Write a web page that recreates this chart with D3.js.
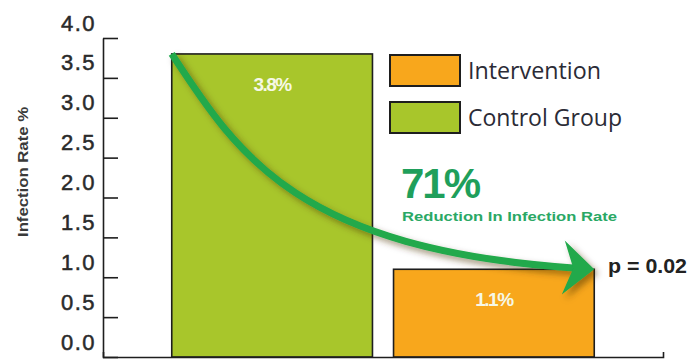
<!DOCTYPE html>
<html>
<head>
<meta charset="utf-8">
<script src="https://cdn.jsdelivr.net/npm/d3@7/dist/d3.min.js"></script>
<style>
  html, body { margin: 0; padding: 0; background: #ffffff; }
  svg { display: block; }
</style>
</head>
<body>
<svg id="chart" width="698" height="362"></svg>
<script>
// Infection rate by group
const categories = ["Control Group", "Intervention"];
const rates = [3.8, 1.1];
const rateLabels = ["3.8%", "1.1%"];
const legendOrder = ["Intervention", "Control Group"];
const yTickValues = [0, 0.5, 1.0, 1.5, 2.0, 2.5, 3.0, 3.5, 4.0];
const reductionText = "71%";
const reductionCaption = "Reduction In Infection Rate";
const pValueText = "p = 0.02";

const fills = { "Control Group": "#a8c62b", "Intervention": "#f8a71c" };
const arrowGreen = "#20a94b";
const textGreen = "#1f9f5b";

const svg = d3.select("#chart");

const x = d3.scaleBand()
  .domain(categories)
  .range([103, 663])
  .paddingInner(0.095)
  .paddingOuter(0.31);

const y = d3.scaleLinear()
  .domain([0, 4.0])
  .range([357, 38]);

const defs = svg.append("defs");
const shadow = defs.append("filter")
  .attr("id", "arrowShadow")
  .attr("x", "-20%").attr("y", "-20%")
  .attr("width", "140%").attr("height", "140%");
shadow.append("feDropShadow")
  .attr("dx", 4).attr("dy", 4)
  .attr("stdDeviation", 3)
  .attr("flood-color", "#4a3000")
  .attr("flood-opacity", 0.5);

// Bars
const data = categories.map((c, i) => ({ cat: c, value: rates[i], label: rateLabels[i] }));

svg.append("g").selectAll("rect")
  .data(data)
  .join("rect")
  .attr("x", d => x(d.cat))
  .attr("y", d => y(d.value))
  .attr("width", x.bandwidth())
  .attr("height", d => y(0) - y(d.value))
  .attr("fill", d => fills[d.cat])
  .attr("stroke", "#1e1e1e")
  .attr("stroke-width", 1.6);

// Value labels inside bars
svg.append("g").selectAll("text")
  .data(data)
  .join("text")
  .attr("x", d => x(d.cat) + x.bandwidth() / 2)
  .attr("y", d => y(d.value) + 37)
  .attr("text-anchor", "middle")
  .attr("font-family", "Liberation Sans, Arial, sans-serif")
  .attr("font-weight", "bold")
  .attr("font-size", 19)
  .attr("letter-spacing", -1.5)
  .attr("fill", "#f6f8e6")
  .text(d => d.label);

// Y axis: ticks point inward, labels sit above their tick
const yAxis = d3.axisLeft(y)
  .tickValues(yTickValues)
  .tickFormat(d3.format(".1f"))
  .tickSizeInner(-15)
  .tickSizeOuter(0)
  .tickPadding(9);

const gy = svg.append("g")
  .attr("transform", "translate(103,0)")
  .call(yAxis);
gy.select(".domain").attr("stroke", "#1e1e1e").attr("stroke-width", 1.6);
gy.selectAll(".tick line").attr("stroke", "#1e1e1e").attr("stroke-width", 1.6);
gy.selectAll(".tick text")
  .attr("dy", null)
  .attr("y", -8)
  .attr("x", -7)
  .attr("font-family", "Liberation Sans, Arial, sans-serif")
  .attr("font-size", 22)
  .attr("letter-spacing", 1.5)
  .attr("fill", "#2a2a2a")
  .attr("stroke", "#2a2a2a")
  .attr("stroke-width", 0.5);

// X axis baseline with a short end tick
const xAxis = d3.axisBottom(x).tickValues([]).tickSizeOuter(-5);
const gx = svg.append("g")
  .attr("transform", `translate(0,${y(0)})`)
  .call(xAxis);
gx.select(".domain").attr("stroke", "#1e1e1e").attr("stroke-width", 1.6);

// Y axis title
svg.append("text")
  .attr("transform", "translate(28,172) rotate(-90)")
  .attr("text-anchor", "middle")
  .attr("font-family", "Liberation Sans, Arial, sans-serif")
  .attr("font-weight", "bold")
  .attr("font-size", 15)
  .attr("textLength", 130)
  .attr("lengthAdjust", "spacingAndGlyphs")
  .attr("fill", "#3a3a3a")
  .text("Infection Rate %");

// Legend
const legend = svg.append("g").attr("transform", "translate(390,55)");
const legendItems = legend.selectAll("g")
  .data(legendOrder)
  .join("g")
  .attr("transform", (d, i) => `translate(0,${i * 47})`);
legendItems.append("rect")
  .attr("width", 70)
  .attr("height", 31)
  .attr("fill", d => fills[d])
  .attr("stroke", "#1e1e1e")
  .attr("stroke-width", 2);
legendItems.append("text")
  .attr("x", 78)
  .attr("y", 24)
  .attr("font-family", "Open Sans, Liberation Sans, sans-serif")
  .attr("font-size", 23)
  .attr("fill", "#2b2b36")
  .attr("textLength", (d, i) => i === 0 ? 133 : 154)
  .attr("lengthAdjust", "spacingAndGlyphs")
  .text(d => d);

// Reduction annotation
svg.append("text")
  .attr("x", 401)
  .attr("y", 198)
  .attr("font-family", "Liberation Sans, Arial, sans-serif")
  .attr("font-weight", "bold")
  .attr("font-size", 42)
  .attr("fill", textGreen)
  .attr("textLength", 80)
  .text(reductionText);

svg.append("text")
  .attr("x", 402)
  .attr("y", 221)
  .attr("font-family", "Liberation Sans, Arial, sans-serif")
  .attr("font-weight", "bold")
  .attr("font-size", 13.5)
  .attr("fill", "#2aa865")
  .attr("textLength", 215)
  .attr("lengthAdjust", "spacingAndGlyphs")
  .text(reductionCaption);

// Curved arrow from the control bar top to the intervention bar top
const p0 = [x("Control Group"), y(rates[0])];
const p3 = [x("Intervention") + x.bandwidth(), y(rates[1])];
const p1 = [p0[0] + 69, p0[1] + 106];
const p2 = [p3[0] - 292, p3[1] - 16];

const arrowG = svg.append("g").attr("filter", "url(#arrowShadow)");
const curve = d3.path();
curve.moveTo(p0[0], p0[1]);
curve.bezierCurveTo(p1[0], p1[1], p2[0], p2[1], p3[0], p3[1]);

const arrowPath = arrowG.append("path")
  .attr("d", curve.toString())
  .attr("fill", "none")
  .attr("stroke", arrowGreen)
  .attr("stroke-width", 7);
const len = arrowPath.node().getTotalLength();
arrowPath.attr("stroke-dasharray", `${len - 18} ${len}`);

const angle = Math.atan2(p3[1] - p2[1], p3[0] - p2[0]) * 180 / Math.PI;
arrowG.append("path")
  .attr("d", "M0,0 L-31,-27 L-21,0 L-31,27 Z")
  .attr("transform", `translate(${p3[0]},${p3[1]}) rotate(${angle})`)
  .attr("fill", arrowGreen);

// p-value
svg.append("text")
  .attr("x", 608)
  .attr("y", 273)
  .attr("font-family", "Liberation Sans, Arial, sans-serif")
  .attr("font-weight", "bold")
  .attr("font-size", 20)
  .attr("fill", "#222222")
  .attr("textLength", 79)
  .attr("lengthAdjust", "spacingAndGlyphs")
  .text(pValueText);
</script>
</body>
</html>
